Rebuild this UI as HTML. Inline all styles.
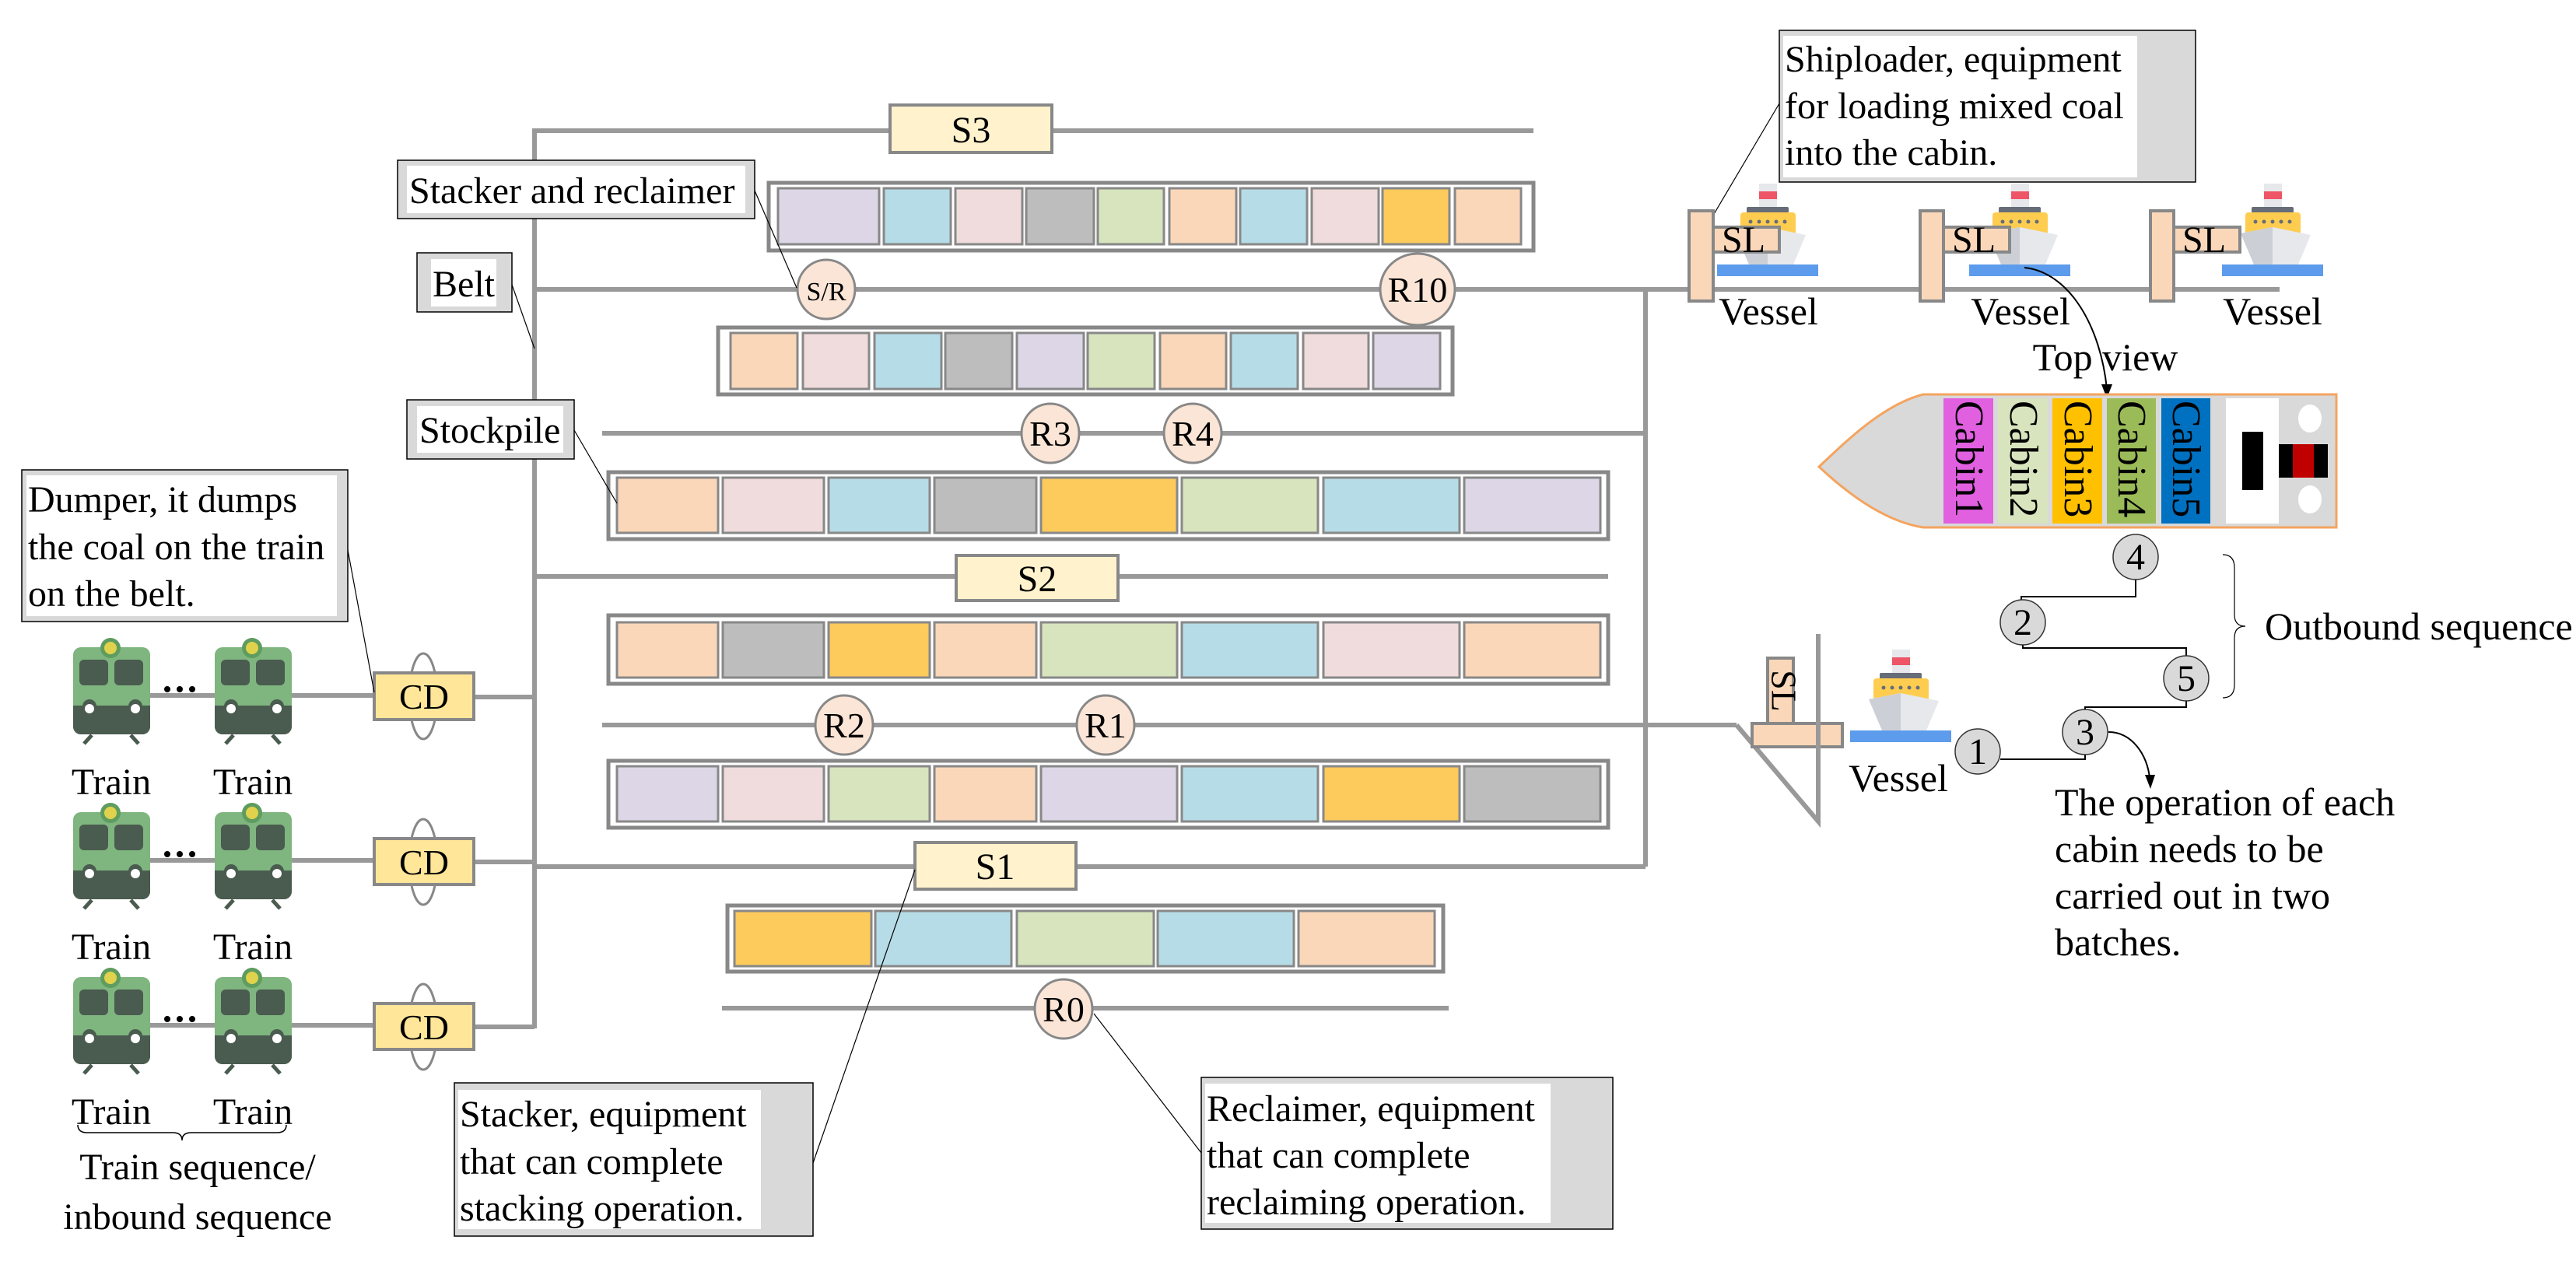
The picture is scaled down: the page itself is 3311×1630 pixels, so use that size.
<!DOCTYPE html>
<html><head><meta charset="utf-8"><style>
html,body{margin:0;padding:0;background:#fff;}
svg{display:block;font-family:"Liberation Serif","Times New Roman",serif;}
svg text{font-family:"Liberation Serif","Times New Roman",serif;fill:#000;}
</style></head><body>
<svg width="3311" height="1630" viewBox="0 0 3311 1630" xmlns="http://www.w3.org/2000/svg" font-family="Liberation Serif, Times New Roman, serif">
<defs>
<g id="train">
  <rect x="94" y="832" width="99" height="112" rx="10" fill="#7fb57f"/>
  <path d="M94 907 H193 V934 a10 10 0 0 1 -10 10 H104 a10 10 0 0 1 -10 -10 Z" fill="#4a5b4f"/>
  <circle cx="142" cy="833" r="13" fill="#5f9c5f"/>
  <circle cx="142" cy="833" r="8" fill="#e0d24c"/>
  <rect x="102" y="848" width="37" height="33" rx="6" fill="#4a5b4f"/>
  <rect x="147" y="848" width="37" height="33" rx="6" fill="#4a5b4f"/>
  <circle cx="115" cy="908" r="9" fill="#4a5b4f"/>
  <circle cx="174" cy="908" r="9" fill="#4a5b4f"/>
  <circle cx="115" cy="911" r="6" fill="#fff"/>
  <circle cx="174" cy="911" r="6" fill="#fff"/>
  <line x1="118" y1="945" x2="108" y2="956" stroke="#4a5b4f" stroke-width="5"/>
  <line x1="168" y1="945" x2="178" y2="956" stroke="#4a5b4f" stroke-width="5"/>
</g>
<g id="ship">
  <rect x="2261" y="236" width="23" height="30" fill="#e6e8ec"/>
  <rect x="2261" y="246" width="23" height="10" fill="#ee5566"/>
  <rect x="2245" y="266" width="54" height="8" rx="2" fill="#666d78"/>
  <rect x="2237" y="273" width="71" height="30" rx="4" fill="#fecd50"/>
  <circle cx="2250" cy="285" r="2.5" fill="#666d78"/><circle cx="2261" cy="285" r="2.5" fill="#666d78"/><circle cx="2272" cy="285" r="2.5" fill="#666d78"/><circle cx="2283" cy="285" r="2.5" fill="#666d78"/><circle cx="2294" cy="285" r="2.5" fill="#666d78"/>
  <polygon points="2231,300 2272,292 2321,302 2305,340 2248,340" fill="#e6e8ec"/>
  <polygon points="2231,300 2272,292 2272,340 2248,340" fill="#ccd0d6"/>
  <rect x="2207" y="340" width="130" height="15" fill="#5d9cec"/>
</g>
</defs>

<g stroke="#999" stroke-width="6" fill="none">
  <line x1="687" y1="165" x2="687" y2="1322"/>
  <line x1="687" y1="168" x2="1971" y2="168"/>
  <line x1="687" y1="372" x2="2930" y2="372"/>
  <line x1="774" y1="557" x2="2115" y2="557"/>
  <line x1="687" y1="741" x2="2067" y2="741"/>
  <line x1="774" y1="932" x2="2232" y2="932"/>
  <polyline points="2232,932 2337,1056 2337,815"/>
  <line x1="687" y1="1114" x2="2115" y2="1114"/>
  <line x1="928" y1="1296" x2="1862" y2="1296"/>
  <line x1="2115" y1="372" x2="2115" y2="1114"/>
  <line x1="192" y1="894" x2="481" y2="894"/><line x1="609" y1="896" x2="687" y2="896"/>
  <line x1="192" y1="1106" x2="481" y2="1106"/><line x1="609" y1="1108" x2="687" y2="1108"/>
  <line x1="192" y1="1318" x2="481" y2="1318"/><line x1="609" y1="1320" x2="687" y2="1320"/>
</g>

<g stroke="#888" stroke-width="4" fill="#fff2cc">
  <rect x="1144" y="135" width="208" height="61"/>
  <rect x="1229" y="714" width="208" height="58"/>
  <rect x="1176" y="1083" width="207" height="60"/>
</g>
<g font-size="48" text-anchor="middle">
  <text x="1248" y="183">S3</text>
  <text x="1333" y="760">S2</text>
  <text x="1279" y="1130">S1</text>
</g>

<g stroke="#888" stroke-width="5" fill="#fff">
  <rect x="988" y="235" width="983" height="87"/>
  <rect x="923" y="421" width="944" height="86"/>
  <rect x="782" y="607" width="1285" height="86"/>
  <rect x="782" y="791" width="1285" height="88"/>
  <rect x="782" y="978" width="1285" height="86"/>
  <rect x="935" y="1164" width="920" height="85"/>
</g>
<g stroke="#888" stroke-width="3">
  <rect x="1000" y="242" width="130" height="72" fill="#dcd6e6"/>
  <rect x="1136" y="242" width="86" height="72" fill="#b6dde7"/>
  <rect x="1228" y="242" width="86" height="72" fill="#f0dcdc"/>
  <rect x="1319" y="242" width="87" height="72" fill="#bdbdbd"/>
  <rect x="1411" y="242" width="85" height="72" fill="#d7e4bd"/>
  <rect x="1503" y="242" width="86" height="72" fill="#fad7b9"/>
  <rect x="1594" y="242" width="86" height="72" fill="#b6dde7"/>
  <rect x="1686" y="242" width="86" height="72" fill="#f0dcdc"/>
  <rect x="1777" y="242" width="86" height="72" fill="#fdca5c"/>
  <rect x="1870" y="242" width="85" height="72" fill="#fad7b9"/>
  <rect x="939" y="428" width="86" height="72" fill="#fad7b9"/>
  <rect x="1032" y="428" width="85" height="72" fill="#f0dcdc"/>
  <rect x="1124" y="428" width="86" height="72" fill="#b6dde7"/>
  <rect x="1215" y="428" width="86" height="72" fill="#bdbdbd"/>
  <rect x="1307" y="428" width="86" height="72" fill="#dcd6e6"/>
  <rect x="1398" y="428" width="86" height="72" fill="#d7e4bd"/>
  <rect x="1491" y="428" width="85" height="72" fill="#fad7b9"/>
  <rect x="1582" y="428" width="86" height="72" fill="#b6dde7"/>
  <rect x="1675" y="428" width="84" height="72" fill="#f0dcdc"/>
  <rect x="1765" y="428" width="86" height="72" fill="#dcd6e6"/>
  <rect x="793" y="614" width="130" height="71" fill="#fad7b9"/>
  <rect x="929" y="614" width="130" height="71" fill="#f0dcdc"/>
  <rect x="1065" y="614" width="130" height="71" fill="#b6dde7"/>
  <rect x="1201" y="614" width="131" height="71" fill="#bdbdbd"/>
  <rect x="1338" y="614" width="175" height="71" fill="#fdca5c"/>
  <rect x="1519" y="614" width="175" height="71" fill="#d7e4bd"/>
  <rect x="1701" y="614" width="175" height="71" fill="#b6dde7"/>
  <rect x="1882" y="614" width="175" height="71" fill="#dcd6e6"/>
  <rect x="793" y="800" width="130" height="71" fill="#fad7b9"/>
  <rect x="929" y="800" width="130" height="71" fill="#bdbdbd"/>
  <rect x="1065" y="800" width="130" height="71" fill="#fdca5c"/>
  <rect x="1201" y="800" width="131" height="71" fill="#fad7b9"/>
  <rect x="1338" y="800" width="175" height="71" fill="#d7e4bd"/>
  <rect x="1519" y="800" width="175" height="71" fill="#b6dde7"/>
  <rect x="1701" y="800" width="175" height="71" fill="#f0dcdc"/>
  <rect x="1882" y="800" width="175" height="71" fill="#fad7b9"/>
  <rect x="793" y="985" width="130" height="71" fill="#dcd6e6"/>
  <rect x="929" y="985" width="130" height="71" fill="#f0dcdc"/>
  <rect x="1065" y="985" width="130" height="71" fill="#d7e4bd"/>
  <rect x="1201" y="985" width="131" height="71" fill="#fad7b9"/>
  <rect x="1338" y="985" width="175" height="71" fill="#dcd6e6"/>
  <rect x="1519" y="985" width="175" height="71" fill="#b6dde7"/>
  <rect x="1701" y="985" width="175" height="71" fill="#fdca5c"/>
  <rect x="1882" y="985" width="175" height="71" fill="#bdbdbd"/>
  <rect x="944" y="1171" width="176" height="71" fill="#fdca5c"/>
  <rect x="1125" y="1171" width="175" height="71" fill="#b6dde7"/>
  <rect x="1307" y="1171" width="176" height="71" fill="#d7e4bd"/>
  <rect x="1488" y="1171" width="175" height="71" fill="#b6dde7"/>
  <rect x="1669" y="1171" width="175" height="71" fill="#fad7b9"/>
</g>

<g stroke="#888" stroke-width="3" fill="#fbe5d6">
  <ellipse cx="1062" cy="372" rx="37" ry="38"/>
  <ellipse cx="1822" cy="372" rx="48" ry="46"/>
  <ellipse cx="1350" cy="557" rx="37" ry="38"/>
  <ellipse cx="1533" cy="557" rx="37" ry="38"/>
  <ellipse cx="1085" cy="932" rx="37" ry="38"/>
  <ellipse cx="1421" cy="932" rx="37" ry="38"/>
  <ellipse cx="1367" cy="1297" rx="37" ry="38"/>
</g>
<g font-size="46" text-anchor="middle">
  <text x="1062" y="386" font-size="34">S/R</text>
  <text x="1822" y="388">R10</text>
  <text x="1350" y="573">R3</text>
  <text x="1533" y="573">R4</text>
  <text x="1085" y="948">R2</text>
  <text x="1421" y="948">R1</text>
  <text x="1367" y="1313">R0</text>
</g>

<g stroke="#888" stroke-width="3" fill="none">
  <ellipse cx="544" cy="895" rx="18" ry="55"/>
  <ellipse cx="544" cy="1108" rx="18" ry="55"/>
  <ellipse cx="544" cy="1320" rx="18" ry="55"/>
</g>
<g stroke="#888" stroke-width="4" fill="#ffe699">
  <rect x="481" y="865" width="128" height="60"/>
  <rect x="481" y="1078" width="128" height="59"/>
  <rect x="481" y="1290" width="128" height="59"/>
</g>
<g font-size="46" text-anchor="middle">
  <text x="545" y="911">CD</text>
  <text x="545" y="1124">CD</text>
  <text x="545" y="1336">CD</text>
</g>

<use href="#train"/><use href="#train" x="182"/>
<use href="#train" y="212"/><use href="#train" x="182" y="212"/>
<use href="#train" y="424"/><use href="#train" x="182" y="424"/>
<g fill="#000">
  <circle cx="215" cy="886" r="4"/><circle cx="231" cy="886" r="4"/><circle cx="247" cy="886" r="4"/>
  <circle cx="215" cy="1098" r="4"/><circle cx="231" cy="1098" r="4"/><circle cx="247" cy="1098" r="4"/>
  <circle cx="215" cy="1310" r="4"/><circle cx="231" cy="1310" r="4"/><circle cx="247" cy="1310" r="4"/>
</g>
<g font-size="48" text-anchor="middle">
  <text x="143" y="1021">Train</text><text x="325" y="1021">Train</text>
  <text x="143" y="1233">Train</text><text x="325" y="1233">Train</text>
  <text x="143" y="1445">Train</text><text x="325" y="1445">Train</text>
  <text x="254" y="1516">Train sequence/</text>
  <text x="254" y="1580">inbound sequence</text>
</g>
<path d="M100 1446 Q100 1456 112 1456 H222 Q234 1456 234 1466 Q234 1456 246 1456 H356 Q368 1456 368 1446" stroke="#000" stroke-width="1.5" fill="none"/>

<g stroke="#000" stroke-width="1.5" fill="#d9d9d9">
  <rect x="511" y="206" width="459" height="75"/>
  <rect x="536" y="325" width="122" height="76"/>
  <rect x="523" y="514" width="215" height="76"/>
  <rect x="28" y="604" width="419" height="195"/>
  <rect x="584" y="1392" width="461" height="197"/>
  <rect x="1544" y="1385" width="529" height="195"/>
  <rect x="2287" y="39" width="535" height="195"/>
</g>
<g fill="#fff">
  <rect x="523" y="213" width="435" height="61"/>
  <rect x="554" y="333" width="84" height="61"/>
  <rect x="536" y="522" width="188" height="60"/>
  <rect x="34" y="611" width="399" height="181"/>
  <rect x="589" y="1401" width="389" height="179"/>
  <rect x="1549" y="1393" width="444" height="179"/>
  <rect x="2292" y="46" width="455" height="182"/>
</g>
<g font-size="48">
  <text x="526" y="261">Stacker and reclaimer</text>
  <text x="556" y="381">Belt</text>
  <text x="539" y="569">Stockpile</text>
  <text x="36" y="658">Dumper, it dumps</text>
  <text x="36" y="719">the coal on the train</text>
  <text x="36" y="779">on the belt.</text>
  <text x="591" y="1448">Stacker, equipment</text>
  <text x="591" y="1509">that can complete</text>
  <text x="591" y="1569">stacking operation.</text>
  <text x="1551" y="1441">Reclaimer, equipment</text>
  <text x="1551" y="1501">that can complete</text>
  <text x="1551" y="1561">reclaiming operation.</text>
  <text x="2294" y="92">Shiploader, equipment</text>
  <text x="2294" y="152">for loading mixed coal</text>
  <text x="2294" y="212">into the cabin.</text>
</g>
<g stroke="#000" stroke-width="1.2" fill="none">
  <line x1="970" y1="245" x2="1024" y2="370"/>
  <line x1="658" y1="366" x2="687" y2="448"/>
  <line x1="738" y1="553" x2="793" y2="647"/>
  <line x1="447" y1="707" x2="481" y2="890"/>
  <line x1="1176" y1="1118" x2="1045" y2="1495"/>
  <line x1="1406" y1="1303" x2="1544" y2="1482"/>
  <line x1="2287" y1="133" x2="2193" y2="292"/>
</g>

<use href="#ship"/><use href="#ship" x="324"/><use href="#ship" x="649"/>
<g stroke="#888" stroke-width="4" fill="#fad7b9">
  <rect x="2202" y="292" width="85" height="32"/>
  <rect x="2171" y="271" width="31" height="116"/>
  <rect x="2498" y="292" width="85" height="32"/>
  <rect x="2468" y="271" width="30" height="116"/>
  <rect x="2794" y="292" width="85" height="32"/>
  <rect x="2764" y="271" width="30" height="116"/>
</g>
<g font-size="48">
  <text x="2213" y="324">SL</text>
  <text x="2509" y="324">SL</text>
  <text x="2805" y="324">SL</text>
</g>
<g font-size="50" text-anchor="middle">
  <text x="2273" y="417">Vessel</text>
  <text x="2597" y="417">Vessel</text>
  <text x="2921" y="417">Vessel</text>
  <text x="2706" y="476">Top view</text>
  <text x="2440" y="1017">Vessel</text>
</g>
<path d="M2602 344 C2660 350 2700 420 2708 500" stroke="#000" stroke-width="2" fill="none"/>
<polygon points="2701,494 2715,494 2708,512" fill="#000"/>

<use href="#ship" x="171" y="599"/>
<g stroke="#888" stroke-width="4" fill="#fad7b9">
  <rect x="2272" y="846" width="33" height="84"/>
  <rect x="2252" y="930" width="116" height="30"/>
</g>
<line x1="2337" y1="815" x2="2337" y2="1056" stroke="#999" stroke-width="6"/>
<text x="2288" y="888" font-size="46" transform="rotate(90 2288 888)" text-anchor="middle" dominant-baseline="middle">SL</text>

<path d="M2472 507 H3003 V678 H2472 C2420 670 2370 630 2338 600 C2370 570 2420 520 2472 507 Z" fill="#d9d9d9" stroke="#f4a460" stroke-width="3"/>
<rect x="2498" y="512" width="64" height="161" fill="#e060e0"/>
<rect x="2568" y="512" width="64" height="161" fill="#d7e4bd"/>
<rect x="2638" y="512" width="64" height="161" fill="#ffc000"/>
<rect x="2708" y="512" width="63" height="161" fill="#9bbb59"/>
<rect x="2778" y="512" width="63" height="161" fill="#0070c0"/>
<rect x="2861" y="512" width="68" height="161" fill="#fff"/>
<rect x="2882" y="555" width="27" height="75" fill="#000"/>
<rect x="2929" y="571" width="63" height="43" fill="#000"/>
<rect x="2947" y="571" width="27" height="43" fill="#c00000"/>
<ellipse cx="2969" cy="538" rx="15" ry="18" fill="#fff"/>
<ellipse cx="2969" cy="642" rx="15" ry="18" fill="#fff"/>
<g font-size="52">
  <text transform="translate(2514 515) rotate(90)">Cabin1</text>
  <text transform="translate(2584 515) rotate(90)">Cabin2</text>
  <text transform="translate(2654 515) rotate(90)">Cabin3</text>
  <text transform="translate(2723 515) rotate(90)">Cabin4</text>
  <text transform="translate(2793 515) rotate(90)">Cabin5</text>
</g>

<g stroke="#000" stroke-width="2" fill="none">
  <polyline points="2745,745 2745,767 2598,767 2598,772"/>
  <polyline points="2600,828 2600,833 2810,833 2810,844"/>
  <polyline points="2810,900 2810,909 2680,909 2680,913"/>
  <polyline points="2680,970 2680,976 2571,976"/>
  <path d="M2857 713 Q2872 713 2872 730 V790 Q2872 805 2886 805 Q2872 805 2872 820 V880 Q2872 897 2857 897" stroke-width="1.2"/>
  <path d="M2710 941 C2740 941 2760 970 2763 1000" stroke-width="2"/>
</g>
<polygon points="2757,996 2770,996 2764,1014" fill="#000"/>
<g stroke="#333" stroke-width="1.5" fill="#d9d9d9">
  <ellipse cx="2745" cy="716" rx="29" ry="29"/>
  <ellipse cx="2600" cy="800" rx="29" ry="29"/>
  <ellipse cx="2810" cy="872" rx="29" ry="29"/>
  <ellipse cx="2680" cy="941" rx="29" ry="29"/>
  <ellipse cx="2542" cy="966" rx="29" ry="29"/>
</g>
<g font-size="48" text-anchor="middle">
  <text x="2745" y="732">4</text>
  <text x="2600" y="816">2</text>
  <text x="2810" y="888">5</text>
  <text x="2680" y="957">3</text>
  <text x="2542" y="982">1</text>
</g>
<g font-size="50">
  <text x="2911" y="822">Outbound sequence</text>
  <text x="2641" y="1048">The operation of each</text>
  <text x="2641" y="1108">cabin needs to be</text>
  <text x="2641" y="1168">carried out in two</text>
  <text x="2641" y="1228">batches.</text>
</g>
</svg>
</body></html>
